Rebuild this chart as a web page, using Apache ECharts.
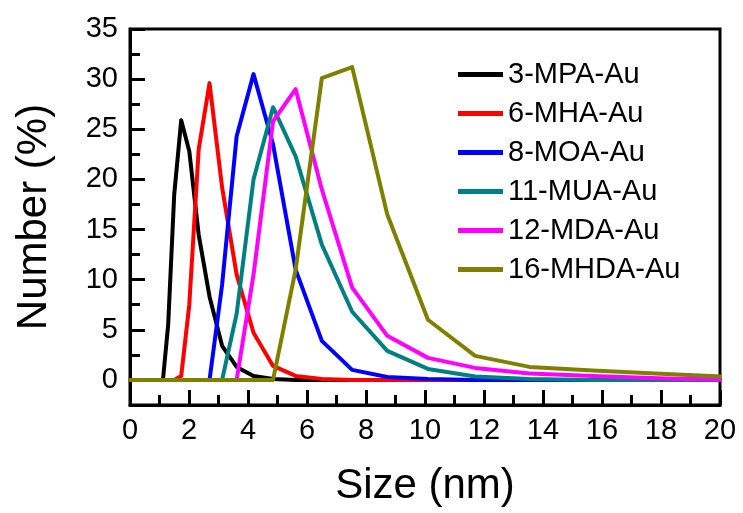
<!DOCTYPE html>
<html>
<head>
<meta charset="utf-8">
<title>Size distribution</title>
<script src="https://cdn.jsdelivr.net/npm/echarts@6/dist/echarts.min.js"></script>
<style>
  html, body { margin: 0; padding: 0; background: #fff; }
  #chart { width: 743px; height: 513px; }
</style>
</head>
<body>
<div id="chart"></div>
<script>
// Hydrodynamic size bins (nm)
const sizes = [0, 0.4, 0.4632, 0.5365, 0.6213, 0.7195, 0.8332, 0.9649, 1.117, 1.294, 1.499,
  1.736, 2.010, 2.328, 2.696, 3.122, 3.615, 4.187, 4.849, 5.615, 6.503, 7.531, 8.721,
  10.10, 11.70, 13.54, 15.69, 18.17, 21.04];

// Number distribution (%) for each ligand-capped sample
const mpa3   = [0, 0, 0, 0, 0, 0, 0, 0, 0, 5.5, 18.5, 25.9, 22.8, 14.5, 8.3, 3.4, 1.3, 0.4, 0.1, 0, 0, 0, 0, 0, 0, 0, 0, 0, 0];
const mha6   = [0, 0, 0, 0, 0, 0, 0, 0, 0, 0, 0, 0.4, 7.5, 23.0, 29.6, 19.2, 10.5, 4.7, 1.4, 0.4, 0.1, 0, 0, 0, 0, 0, 0, 0, 0];
const moa8   = [0, 0, 0, 0, 0, 0, 0, 0, 0, 0, 0, 0, 0, 0, 0, 9.5, 24.3, 30.5, 23.5, 11.0, 3.9, 1.0, 0.3, 0.1, 0, 0, 0, 0, 0];
const mua11  = [0, 0, 0, 0, 0, 0, 0, 0, 0, 0, 0, 0, 0, 0, 0, 0, 6.6, 20.0, 27.2, 22.3, 13.5, 6.8, 2.9, 1.1, 0.35, 0.1, 0, 0, 0];
const mda12  = [0, 0, 0, 0, 0, 0, 0, 0, 0, 0, 0, 0, 0, 0, 0, 0, 0, 10.5, 25.8, 29.0, 19.0, 9.2, 4.4, 2.2, 1.2, 0.65, 0.4, 0.15, 0];
const mhda16 = [0, 0, 0, 0, 0, 0, 0, 0, 0, 0, 0, 0, 0, 0, 0, 0, 0, 0, 0, 11.0, 30.1, 31.2, 16.5, 6.0, 2.4, 1.3, 0.95, 0.6, 0.2];

const seriesNames = ['3-MPA-Au', '6-MHA-Au', '8-MOA-Au', '11-MUA-Au', '12-MDA-Au', '16-MHDA-Au'];
const seriesValues = [mpa3, mha6, moa8, mua11, mda12, mhda16];
const seriesColors = ['#000000', '#ff0000', '#0000ff', '#008080', '#ff00ff', '#808000'];

const xTicks = [0, 2, 4, 6, 8, 10, 12, 14, 16, 18, 20];
const yTicks = [0, 5, 10, 15, 20, 25, 30, 35];

const FONT = '"Liberation Sans", Arial, Helvetica, sans-serif';

const chart = echarts.init(document.getElementById('chart'), null, { renderer: 'canvas' });

const series = seriesNames.map((name, k) => ({
  name: name,
  type: 'line',
  xAxisIndex: 0,
  yAxisIndex: 0,
  data: sizes.map((s, i) => [s, seriesValues[k][i]]),
  symbol: 'none',
  smooth: false,
  clip: true,
  lineStyle: { color: seriesColors[k], width: 4, join: 'round', cap: 'round' },
  itemStyle: { color: seriesColors[k] },
  emphasis: { disabled: true },
  animation: false
}));

const yRange = { min: -2.5, max: 35 };

chart.setOption({
  backgroundColor: '#ffffff',
  animation: false,
  grid: {
    left: 130, right: 23, top: 29, bottom: 108,
    show: true, borderColor: '#000', borderWidth: 3, backgroundColor: 'transparent'
  },
  legend: {
    orient: 'vertical',
    left: 453, top: 55,
    icon: 'rect',
    itemWidth: 45, itemHeight: 5,
    itemGap: 10,
    selectedMode: false,
    data: seriesNames,
    textStyle: { fontFamily: FONT, fontSize: 29, color: '#000', lineHeight: 28, padding: [0, 0, 0, 0] }
  },
  xAxis: {
    type: 'value',
    min: xTicks[0], max: xTicks[xTicks.length - 1], interval: 2,
    name: 'Size (nm)',
    nameLocation: 'middle',
    nameGap: 60,
    nameTextStyle: { fontFamily: FONT, fontSize: 42, color: '#000' },
    axisLine: { show: true, onZero: false, lineStyle: { color: '#000', width: 3 } },
    axisTick: { show: true, inside: true, length: 15, lineStyle: { color: '#000', width: 3 } },
    minorTick: { show: true, splitNumber: 2, length: 10, lineStyle: { color: '#000', width: 3 } },
    axisLabel: { fontFamily: FONT, fontSize: 29, color: '#000', margin: 11 },
    splitLine: { show: false }
  },
  yAxis: [
    {
      // labelled axis with major ticks every 5
      type: 'value',
      min: yRange.min, max: yRange.max,
      name: 'Number (%)',
      nameLocation: 'middle',
      nameGap: 75,
      nameTextStyle: { fontFamily: FONT, fontSize: 42, color: '#000' },
      axisLine: { show: true, onZero: false, lineStyle: { color: '#000', width: 3 } },
      axisTick: {
        show: true, inside: true, length: 15,
        customValues: yTicks,
        lineStyle: { color: '#000', width: 3 }
      },
      axisLabel: {
        fontFamily: FONT, fontSize: 29, color: '#000', margin: 12,
        customValues: yTicks
      },
      splitLine: { show: false }
    },
    {
      // minor ticks every 2.5
      type: 'value',
      position: 'left',
      min: yRange.min, max: yRange.max, interval: 2.5,
      axisLine: { show: false },
      axisTick: { show: true, inside: true, length: 10, lineStyle: { color: '#000', width: 3 } },
      axisLabel: { show: false },
      splitLine: { show: false }
    }
  ],
  series: series
});
</script>
</body>
</html>
